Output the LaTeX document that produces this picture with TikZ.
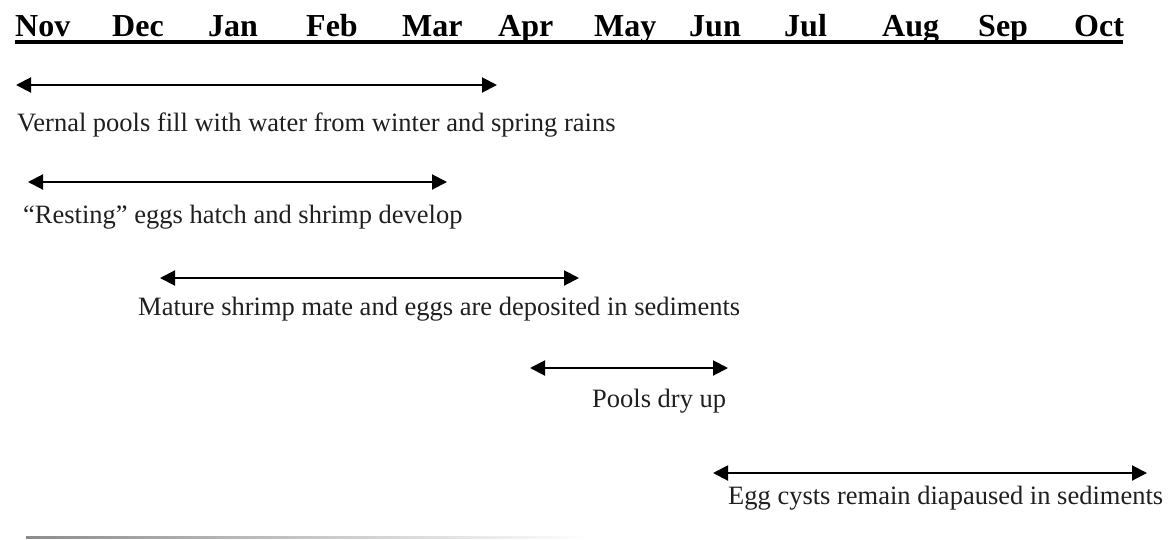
\documentclass[tikz,border=0pt]{standalone}
\usepackage{fontspec}
\setmainfont{Liberation Serif}
\usetikzlibrary{arrows.meta}
\begin{document}
\begin{tikzpicture}[x=1pt,y=-1pt,
  month/.style={anchor=base west,inner sep=0pt,font=\fontsize{32}{38}\selectfont\bfseries},
  label/.style={anchor=base west,inner sep=0pt,text=black!88,font=\fontsize{26.5}{32}\selectfont},
  span/.style={line width=2pt,{Triangle[length=15pt,width=15pt]}-{Triangle[length=15pt,width=15pt]}}]
\useasboundingbox (0,0) rectangle (1169,539);
% header
\foreach \m/\x in {Nov/15,Dec/112,Jan/208,Feb/306,Mar/402,Apr/498,May/594,Jun/689,Jul/784,Aug/882,Sep/978,Oct/1074}
  \node[month] (m\m) at (\x,36) {\m};
\draw[line width=3.5pt] (15,42) -- (1123,42);
% spans
\coordinate (a1l) at (16,85);  \coordinate (a1r) at (497,85);
\coordinate (a2l) at (28,182); \coordinate (a2r) at (447,182);
\coordinate (a3l) at (160,278); \coordinate (a3r) at (579,278);
\coordinate (a4l) at (530,368); \coordinate (a4r) at (728,368);
\coordinate (a5l) at (713,473); \coordinate (a5r) at (1147,473);
\draw[span] (a1l) -- (a1r);
\draw[span] (a2l) -- (a2r);
\draw[span] (a3l) -- (a3r);
\draw[span] (a4l) -- (a4r);
\draw[span] (a5l) -- (a5r);
\node[label] (t1) at (17,131) {Vernal pools fill with water from winter and spring rains};
\node[label] (t2) at (23,223) {“Resting” eggs hatch and shrimp develop};
\node[label] (t3) at (138,315) {Mature shrimp mate and eggs are deposited in sediments};
\node[label] (t4) at (592,407) {Pools dry up};
\node[label] (t5) at (728,504) {Egg cysts remain diapaused in sediments};
% faded rule at bottom
\shade[left color=black!45,right color=white] (26,536) rectangle (590,538.5);
\end{tikzpicture}
\end{document}
